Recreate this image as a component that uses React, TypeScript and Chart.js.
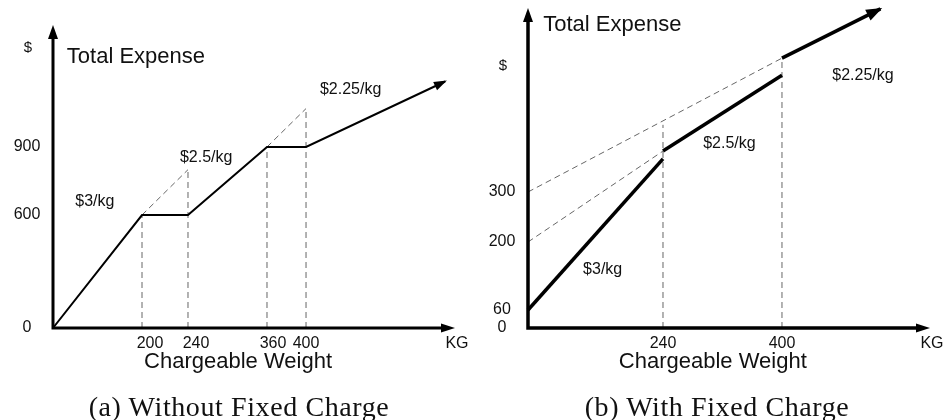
import React, { useEffect, useRef } from 'react';
import { Chart, registerables, LinearScale } from 'chart.js';

// ---------------- Panel (a): without fixed charge ----------------
const aXTicks = [200, 240, 360, 400];
const aXTickLabels = ['200', '240', '360', '400'];
const aYTicks = [0, 600, 900];
const aYTickLabels = ['0', '600', '900'];
const aCostX = [0, 200, 240, 360, 400, 540];
const aCost = [0, 600, 600, 900, 900, 1190];
const aExt1X = [200, 240];
const aExt1 = [600, 800];
const aExt2X = [360, 400];
const aExt2 = [900, 1070];
const aGuideX = [200, 240, 360, 400];
const aGuideTop = [600, 800, 900, 1070];
const aRateLabels = ['$3/kg', '$2.5/kg', '$2.25/kg'];
const aRateX = [50, 233, 414];
const aRateY = [660, 855, 1155];

// ---------------- Panel (b): with fixed charge ----------------
const bXTicks = [240, 400];
const bXTickLabels = ['240', '400'];
const bYTicks = [0, 60, 200, 300];
const bYTickLabels = ['0', '60', '200', '300'];
const bSeg1X = [0, 240];
const bSeg1 = [60, 372];
const bSeg2X = [240, 400];
const bSeg2 = [389, 554];
const bSeg3X = [400, 533];
const bSeg3 = [591, 698];
const bDash1X = [0, 240];
const bDash1 = [200, 389];
const bDash2X = [0, 400];
const bDash2 = [300, 591];
const bGuideX = [240, 400];
const bGuideTop = [446, 591];
const bRateLabels = ['$3/kg', '$2.5/kg', '$2.25/kg'];
const bRateX = [98, 294, 468];
const bRateY = [144, 406, 552];

const AXIS_TITLE = 'Chargeable Weight';
const AXIS_UNIT_X = 'KG';
const AXIS_UNIT_Y = '$';
const CHART_TITLE = 'Total Expense';
const CAPTION_A = '(a) Without Fixed Charge';
const CAPTION_B = '(b) With Fixed Charge';

// ---------------- schematic (piecewise) scale ----------------
type Knots = { v: number[]; f: number[] };
const knotsByCanvas = new WeakMap<HTMLCanvasElement, Record<string, Knots>>();

class PiecewiseScale extends LinearScale {
  static id = 'piecewise';
  static defaults = LinearScale.defaults;
  _knots(): Knots {
    const rec = knotsByCanvas.get((this as any).chart.canvas);
    return rec![(this as any).id];
  }
  getPixelForValue(value: number) {
    const { v, f } = this._knots();
    let i = 1;
    while (i < v.length - 1 && value > v[i]) i++;
    const t = (value - v[i - 1]) / (v[i] - v[i - 1]);
    return this.getPixelForDecimal(f[i - 1] + t * (f[i] - f[i - 1]));
  }
  getValueForPixel(pixel: number) {
    const { v, f } = this._knots();
    const d = this.getDecimalForPixel(pixel);
    let i = 1;
    while (i < f.length - 1 && d > f[i]) i++;
    const t = (d - f[i - 1]) / (f[i] - f[i - 1]);
    return v[i - 1] + t * (v[i] - v[i - 1]);
  }
}

Chart.register(...registerables, PiecewiseScale);

const SANS = '"Liberation Sans", Arial, Helvetica, sans-serif';
const INK = '#111';

function head(ctx: CanvasRenderingContext2D, x: number, y: number, ang: number, len: number, half: number) {
  ctx.save();
  ctx.translate(x, y);
  ctx.rotate(ang);
  ctx.beginPath();
  ctx.moveTo(0, 0);
  ctx.lineTo(-len, -half);
  ctx.lineTo(-len, half);
  ctx.closePath();
  ctx.fill();
  ctx.restore();
}

type Spec = {
  key: string;
  xKnots: Knots;
  yKnots: Knots;
  padding: { left: number; right: number; top: number; bottom: number };
  datasets: any[];
  arrowDatasets: number[];
  lineHead: [number, number];
  axisWidth: number;
  xTicks: number[];
  xTickLabels: string[];
  xTickNudge: number[];
  yTicks: number[];
  yTickLabels: string[];
  unitY: number;
  titleX: number;
  titleY: number;
  axisTitleAt: number;
  rateLabels: string[];
  rateX: number[];
  rateY: number[];
};

function line(xs: number[], ys: number[], solid: boolean, width: number) {
  return {
    data: xs.map((x, i) => ({ x, y: ys[i] })),
    borderColor: solid ? '#000' : '#666',
    borderWidth: width,
    borderDash: solid ? [] : [6, 4],
    borderCapStyle: 'butt',
    borderJoinStyle: 'miter',
    pointRadius: 0,
    fill: false,
    tension: 0,
    clip: false,
  };
}

function makePlugin(spec: Spec) {
  return {
    id: 'diagram_' + spec.key,
    afterDatasetsDraw(chart: any) {
      const ctx: CanvasRenderingContext2D = chart.ctx;
      const xs = chart.scales.x;
      const ys = chart.scales.y;
      const ca = chart.chartArea;
      const px = (v: number) => xs.getPixelForValue(v);
      const py = (v: number) => ys.getPixelForValue(v);
      const ox = px(0);
      const oy = py(0);
      ctx.save();
      ctx.fillStyle = '#000';
      // arrowheads on the cost lines
      spec.arrowDatasets.forEach((i) => {
        const pts = chart.getDatasetMeta(i).data;
        const a = pts[pts.length - 2];
        const b = pts[pts.length - 1];
        const ang = Math.atan2(b.y - a.y, b.x - a.x);
        head(ctx, b.x + Math.cos(ang) * 2, b.y + Math.sin(ang) * 2, ang, spec.lineHead[0], spec.lineHead[1]);
      });
      // axes
      const hl = 14;
      ctx.strokeStyle = '#000';
      ctx.lineWidth = spec.axisWidth;
      ctx.lineJoin = 'miter';
      ctx.lineCap = 'butt';
      ctx.beginPath();
      ctx.moveTo(ox, ca.top + hl - 1);
      ctx.lineTo(ox, oy);
      ctx.lineTo(ca.right - hl + 1, oy);
      ctx.stroke();
      head(ctx, ox, ca.top, -Math.PI / 2, hl, 5);
      head(ctx, ca.right, oy, 0, hl, 4.5);

      // texts
      ctx.fillStyle = INK;
      ctx.textBaseline = 'middle';
      ctx.font = `16px ${SANS}`;
      ctx.textAlign = 'center';
      spec.yTicks.forEach((v, i) => ctx.fillText(spec.yTickLabels[i], ox - 26, py(v)));
      spec.xTicks.forEach((v, i) => ctx.fillText(spec.xTickLabels[i], px(v) + spec.xTickNudge[i], oy + 16));
      ctx.fillText(AXIS_UNIT_X, ca.right + 2, oy + 16);
      ctx.font = `15px ${SANS}`;
      ctx.fillText(AXIS_UNIT_Y, ox - 25, py(spec.unitY));
      ctx.font = `22px ${SANS}`;
      ctx.fillText(AXIS_TITLE, px(spec.axisTitleAt), oy + 34);
      ctx.textAlign = 'left';
      ctx.fillText(CHART_TITLE, px(spec.titleX), py(spec.titleY));
      ctx.font = `16px ${SANS}`;
      spec.rateLabels.forEach((t, i) => ctx.fillText(t, px(spec.rateX[i]), py(spec.rateY[i])));
      ctx.restore();
    },
  };
}

const specA: Spec = {
  key: 'a',
  xKnots: { v: [0, 200, 240, 360, 400, 550], f: [0, 0.2214, 0.3358, 0.5323, 0.6294, 1] },
  yKnots: { v: [0, 600, 900, 1440], f: [0, 0.3729, 0.5974, 1] },
  padding: { left: 53, right: 17, top: 25, bottom: 92 },
  datasets: [
    line(aCostX, aCost, true, 2),
    line(aExt1X, aExt1, false, 1),
    line(aExt2X, aExt2, false, 1),
    ...aGuideX.map((x, i) => line([x, x], [0, aGuideTop[i]], false, 1)),
  ],
  arrowDatasets: [0],
  lineHead: [13, 4.5],
  axisWidth: 3,
  xTicks: aXTicks,
  xTickLabels: aXTickLabels,
  xTickNudge: [8, 8, 6, 0],
  yTicks: aYTicks,
  yTickLabels: aYTickLabels,
  unitY: 1338,
  titleX: 31,
  titleY: 1300,
  axisTitleAt: 316,
  rateLabels: aRateLabels,
  rateX: aRateX,
  rateY: aRateY,
};

const specB: Spec = {
  key: 'b',
  xKnots: { v: [0, 240, 400, 600], f: [0, 0.3358, 0.6318, 1] },
  yKnots: { v: [0, 60, 200, 300, 700], f: [0, 0.05625, 0.26875, 0.425, 1] },
  padding: { left: 56, right: 15, top: 8, bottom: 92 },
  datasets: [
    line(bSeg1X, bSeg1, true, 3.5),
    line(bSeg2X, bSeg2, true, 3.5),
    line(bSeg3X, bSeg3, true, 3.5),
    line(bDash1X, bDash1, false, 1),
    line(bDash2X, bDash2, false, 1),
    ...bGuideX.map((x, i) => line([x, x], [0, bGuideTop[i]], false, 1)),
  ],
  arrowDatasets: [2],
  lineHead: [16, 6],
  axisWidth: 3.5,
  xTicks: bXTicks,
  xTickLabels: bXTickLabels,
  xTickNudge: [0, 0],
  yTicks: bYTicks,
  yTickLabels: bYTickLabels,
  unitY: 574,
  titleX: 27,
  titleY: 663,
  axisTitleAt: 307,
  rateLabels: bRateLabels,
  rateX: bRateX,
  rateY: bRateY,
};

function Panel({ spec, left, width }: { spec: Spec; left: number; width: number }) {
  const ref = useRef<HTMLCanvasElement>(null);
  useEffect(() => {
    const canvas = ref.current!;
    knotsByCanvas.set(canvas, { x: spec.xKnots, y: spec.yKnots });
    const chart = new Chart(canvas, {
      type: 'line',
      data: { datasets: spec.datasets },
      options: {
        animation: false,
        responsive: false,
        devicePixelRatio: 1,
        events: [],
        layout: { padding: spec.padding },
        scales: {
          x: { type: 'piecewise' as any, min: spec.xKnots.v[0], max: spec.xKnots.v[spec.xKnots.v.length - 1], display: false },
          y: { type: 'piecewise' as any, min: spec.yKnots.v[0], max: spec.yKnots.v[spec.yKnots.v.length - 1], display: false },
        },
        plugins: { legend: { display: false }, tooltip: { enabled: false } },
      } as any,
      plugins: [makePlugin(spec)],
    });
    return () => chart.destroy();
  }, []);
  return (
    <canvas
      ref={ref}
      width={width}
      height={420}
      style={{ position: 'absolute', left, top: 0, width, height: 420 }}
    />
  );
}

const captionStyle: React.CSSProperties = {
  position: 'absolute',
  top: 391,
  transform: 'translateX(-50%)',
  whiteSpace: 'nowrap',
  fontFamily: '"Liberation Serif", "Times New Roman", serif',
  fontSize: 28,
  lineHeight: '32px',
  letterSpacing: 0.6,
  color: '#111',
};

export default function App() {
  return (
    <div style={{ position: 'fixed', left: 0, top: 0, width: 945, height: 420, background: '#fff', overflow: 'hidden' }}>
      <Panel spec={specA} left={0} width={472} />
      <Panel spec={specB} left={472} width={473} />
      <div style={{ ...captionStyle, left: 239 }}>{CAPTION_A}</div>
      <div style={{ ...captionStyle, left: 717 }}>{CAPTION_B}</div>
    </div>
  );
}
